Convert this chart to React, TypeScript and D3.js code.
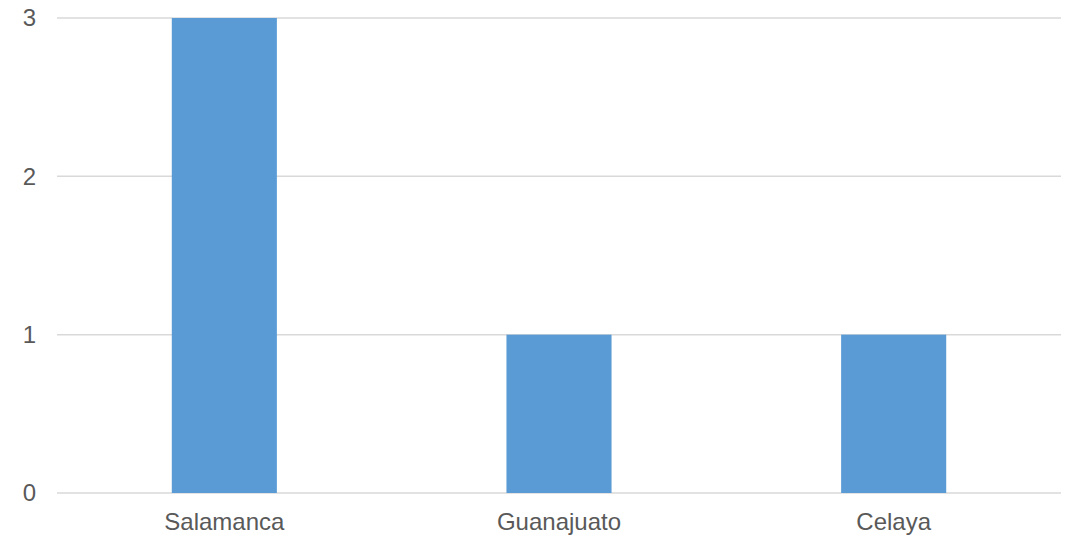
import React from "react";
import * as d3 from "d3";

const categories = ["Salamanca", "Guanajuato", "Celaya"];
const values = [3, 1, 1];
const yTicks = [0, 1, 2, 3];

export default function App() {
  const W = 1071, H = 536;
  const left = 57, right = 1061, top = 18, bottom = 493;
  const x = d3.scaleBand<string>().domain(categories).range([left, right]).paddingInner(0.686).paddingOuter(0.343);
  const y = d3.scaleLinear().domain([0, 3]).range([bottom, top]);
  return (
    <svg width={W} height={H} style={{ position: "absolute", left: 0, top: 0, background: "#fff" }}
      fontFamily="'Liberation Sans', Arial, sans-serif">
      {yTicks.map(t => (
        <g key={t}>
          <line x1={left} x2={right} y1={y(t)} y2={y(t)} stroke="#d9d9d9" strokeWidth={1.5} />
          <text x={36} y={y(t)} dy="0.35em" textAnchor="end" fontSize={24} fill="#595959">{t}</text>
        </g>
      ))}
      {categories.map((c, i) => (
        <rect key={c} x={x(c)} y={y(values[i])} width={x.bandwidth()} height={bottom - y(values[i])} fill="#5b9bd5" />
      ))}
      {categories.map(c => (
        <text key={c} x={(x(c) as number) + x.bandwidth() / 2} y={530} textAnchor="middle" fontSize={24} fill="#595959">{c}</text>
      ))}
    </svg>
  );
}
